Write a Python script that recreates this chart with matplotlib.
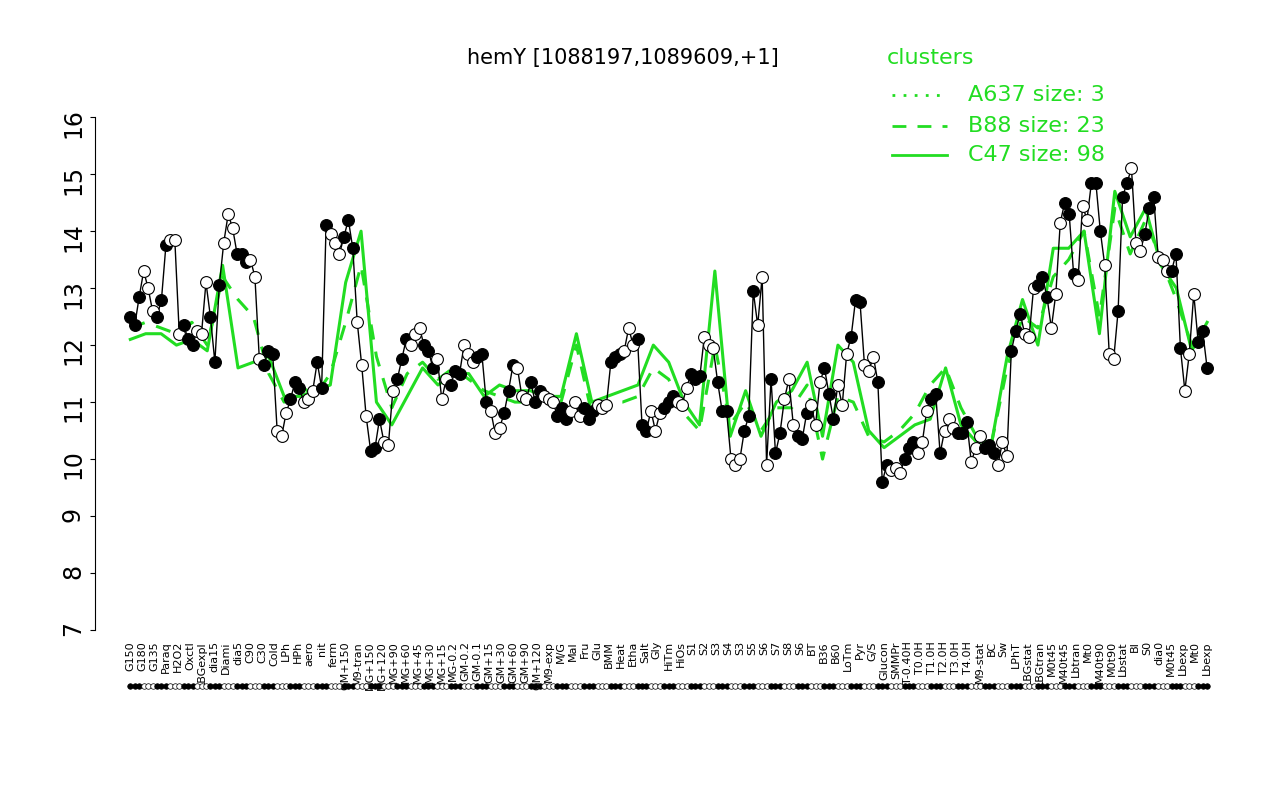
import matplotlib
matplotlib.use("Agg")
import matplotlib.pyplot as plt
import numpy as np

# expression values, left to right
values = [12.5, 12.35, 12.85, 13.3, 13.0, 12.6, 12.5, 12.8, 13.75, 13.85, 13.85, 12.2, 12.35, 12.1, 12.0,
          12.25, 12.2, 13.1, 12.5, 11.7, 13.05, 13.8, 14.3, 14.05, 13.6, 13.6, 13.45, 13.5, 13.2, 11.75,
          11.65, 11.9, 11.85, 10.5, 10.4, 10.8, 11.05, 11.35, 11.25, 11.0, 11.05, 11.2, 11.7, 11.25, 14.1,
          13.95, 13.8, 13.6, 13.9, 14.2, 13.7, 12.4, 11.65, 10.75, 10.15, 10.2, 10.7, 10.3, 10.25, 11.2,
          11.4, 11.75, 12.1, 12.0, 12.2, 12.3, 12.0, 11.9, 11.6, 11.75, 11.05, 11.4, 11.3, 11.55, 11.5,
          12.0, 11.85, 11.7, 11.8, 11.85, 11.0, 10.85, 10.45, 10.55, 10.8, 11.2, 11.65, 11.6, 11.1, 11.05,
          11.35, 11.0, 11.2, 11.1, 11.05, 11.0, 10.75, 10.9, 10.7, 10.85, 11.0, 10.75, 10.9, 10.7, 10.85,
          10.95, 10.9, 10.95, 11.7, 11.8, 11.85, 11.9, 12.3, 12.0, 12.1, 10.6, 10.5, 10.85, 10.5, 10.8,
          10.9, 11.0, 11.1, 11.0, 10.95, 11.25, 11.5, 11.4, 11.45, 12.15, 12.0, 11.95, 11.35, 10.85, 10.85,
          10.0, 9.9, 10.0, 10.5, 10.75, 12.95, 12.35, 13.2, 9.9, 11.4, 10.1, 10.45, 11.05, 11.4, 10.6,
          10.4, 10.35, 10.8, 10.95, 10.6, 11.35, 11.6, 11.15, 10.7, 11.3, 10.95, 11.85, 12.15, 12.8, 12.75,
          11.65, 11.55, 11.8, 11.35, 9.6, 9.9, 9.8, 9.85, 9.75, 10.0, 10.2, 10.3, 10.1, 10.3, 10.85,
          11.05, 11.15, 10.1, 10.5, 10.7, 10.55, 10.45, 10.45, 10.65, 9.95, 10.2, 10.4, 10.2, 10.25, 10.1,
          9.9, 10.3, 10.05, 11.9, 12.25, 12.55, 12.2, 12.15, 13.0, 13.05, 13.2, 12.85, 12.3, 12.9, 14.15,
          14.5, 14.3, 13.25, 13.15, 14.45, 14.2, 14.85, 14.85, 14.0, 13.4, 11.85, 11.75, 12.6, 14.6, 14.85,
          15.1, 13.8, 13.65, 13.95, 14.4, 14.6, 13.55, 13.5, 13.3, 13.3, 13.6, 11.95, 11.2, 11.85, 12.9,
          12.05, 12.25, 11.6]

# cluster means (every 4th condition)
c47 = [12.1, 12.2, 12.2, 12.0, 12.1, 11.9, 13.4, 11.6, 11.7, 11.8, 11.1, 11.1, 11.2, 11.3, 13.1, 14.0, 11.0,
       10.6, 11.1, 11.6, 11.3, 11.5, 11.5, 11.1, 11.3, 11.2, 11.2, 11.1, 11.1, 12.2, 11.0, 11.1, 11.2, 11.3,
       12.0, 11.7, 11.0, 10.6, 13.3, 10.4, 11.2, 10.4, 11.0, 11.2, 11.7, 10.4, 12.0, 11.7, 10.5, 10.2, 10.4,
       10.6, 10.7, 11.6, 10.6, 10.3, 10.3, 11.8, 12.8, 12.0, 13.7, 13.7, 14.0, 12.2, 14.7, 13.9, 14.4, 13.4,
       13.0, 11.9, 12.4]
b88 = [12.3, 12.4, 12.3, 12.2, 12.4, 12.0, 13.2, 12.8, 12.5, 11.5, 11.0, 11.3, 11.1, 11.5, 12.4, 13.4, 11.8,
       10.9, 11.5, 11.7, 11.4, 11.6, 11.4, 11.2, 11.1, 11.0, 11.0, 11.1, 11.0, 12.0, 10.8, 11.0, 11.0, 11.1,
       11.6, 11.4, 10.8, 10.5, 12.0, 10.6, 11.0, 10.5, 10.9, 10.9, 11.3, 10.0, 11.1, 11.0, 10.4, 10.3, 10.5,
       10.8, 11.3, 11.6, 10.9, 10.4, 10.3, 11.6, 12.5, 12.3, 13.2, 13.5, 14.0, 12.5, 14.4, 13.6, 14.2, 13.5,
       12.8, 12.0, 12.3]

tick_labels = ["G150", "G180", "G135", "Paraq", "H2O2", "Oxctl", "LBGexpl", "dia15", "Diami", "dia5",
               "C90", "C30", "Cold", "LPh", "HPh", "aero", "nit", "ferm", "GM+150", "M9-tran", "MG+150",
               "MG+120", "MG+90", "MG+60", "MG+45", "MG+30", "MG+15", "MG-0.2", "GM-0.2", "GM-0.1",
               "GM+15", "GM+30", "GM+60", "GM+90", "GM+120", "M9-exp", "M/G", "Mal", "Fru", "Glu",
               "BMM", "Heat", "Etha", "Salt", "Gly", "HiTm", "HiOs", "S1", "S2", "S3", "S4", "S3", "S5",
               "S6", "S7", "S8", "S6", "BT", "B36", "B60", "LoTm", "Pyr", "G/S", "Glucon", "SMMPr",
               "T-0.40H", "T0.0H", "T1.0H", "T2.0H", "T3.0H", "T4.0H", "M9-stat", "BC", "Sw", "LPhT",
               "LBGstat", "LBGtran", "M0t45", "M40t45", "Lbtran", "Mt0", "M40t90", "M0t90", "Lbstat",
               "BI", "S0", "dia0", "M0t45", "Lbexp", "Mt0", "Lbexp"]

n = len(values)
x = np.arange(n)
filled = [(i // 3) % 2 == 0 for i in range(n)]

fig = plt.figure(figsize=(12.8, 8), dpi=100)
ax = fig.add_axes([0.074, 0.2125, 0.876, 0.641])
green = "#22dd22"

ax.plot(np.linspace(0, n - 1, len(c47)), c47, color=green, lw=2.2, zorder=1)
ax.plot(np.linspace(0, n - 1, len(b88)), b88, color=green, lw=2.2, ls=(0, (5, 4)), zorder=1)
ax.plot(x, values, color="black", lw=1, zorder=2)
for i in range(n):
    ax.plot(x[i], values[i], "o", ms=8.5, mec="black", mew=0.8,
            mfc="black" if filled[i] else "white", zorder=3)

ax.set_ylim(7, 16)
ax.set_xlim(-8, n + 1)
ax.set_yticks(range(7, 17))
ax.tick_params(axis="y", labelsize=17, rotation=90)
ax.set_xticks(np.linspace(0, n - 1, len(tick_labels)))
ax.set_xticklabels(tick_labels, rotation=90, fontsize=8)
for s in ["top", "right", "bottom"]:
    ax.spines[s].set_visible(False)
ax.tick_params(axis="x", length=0, pad=8)
fig.text(0.487, 0.927, "hemY [1088197,1089609,+1]", fontsize=15, ha="center", va="center")

# small markers below axis
for i in range(n):
    ax.plot(x[i], 6.02, "o", ms=4, mec="black", mew=0.5,
            mfc="black" if filled[i] else "white", clip_on=False)

fig.text(0.693, 0.927, "clusters", color=green, fontsize=16, va="center")
ly = [0.881, 0.843, 0.806]
styles = [(0, (1, 3)), (0, (5, 4)), "-"]
names = ["A637 size: 3", "B88 size: 23", "C47 size: 98"]
for yy, st, nm in zip(ly, styles, names):
    fig.add_artist(plt.Line2D([0.697, 0.74], [yy, yy], color=green, lw=2, ls=st))
    fig.text(0.756, yy, nm, color=green, fontsize=16, va="center")

fig.savefig("out.png", dpi=100)
